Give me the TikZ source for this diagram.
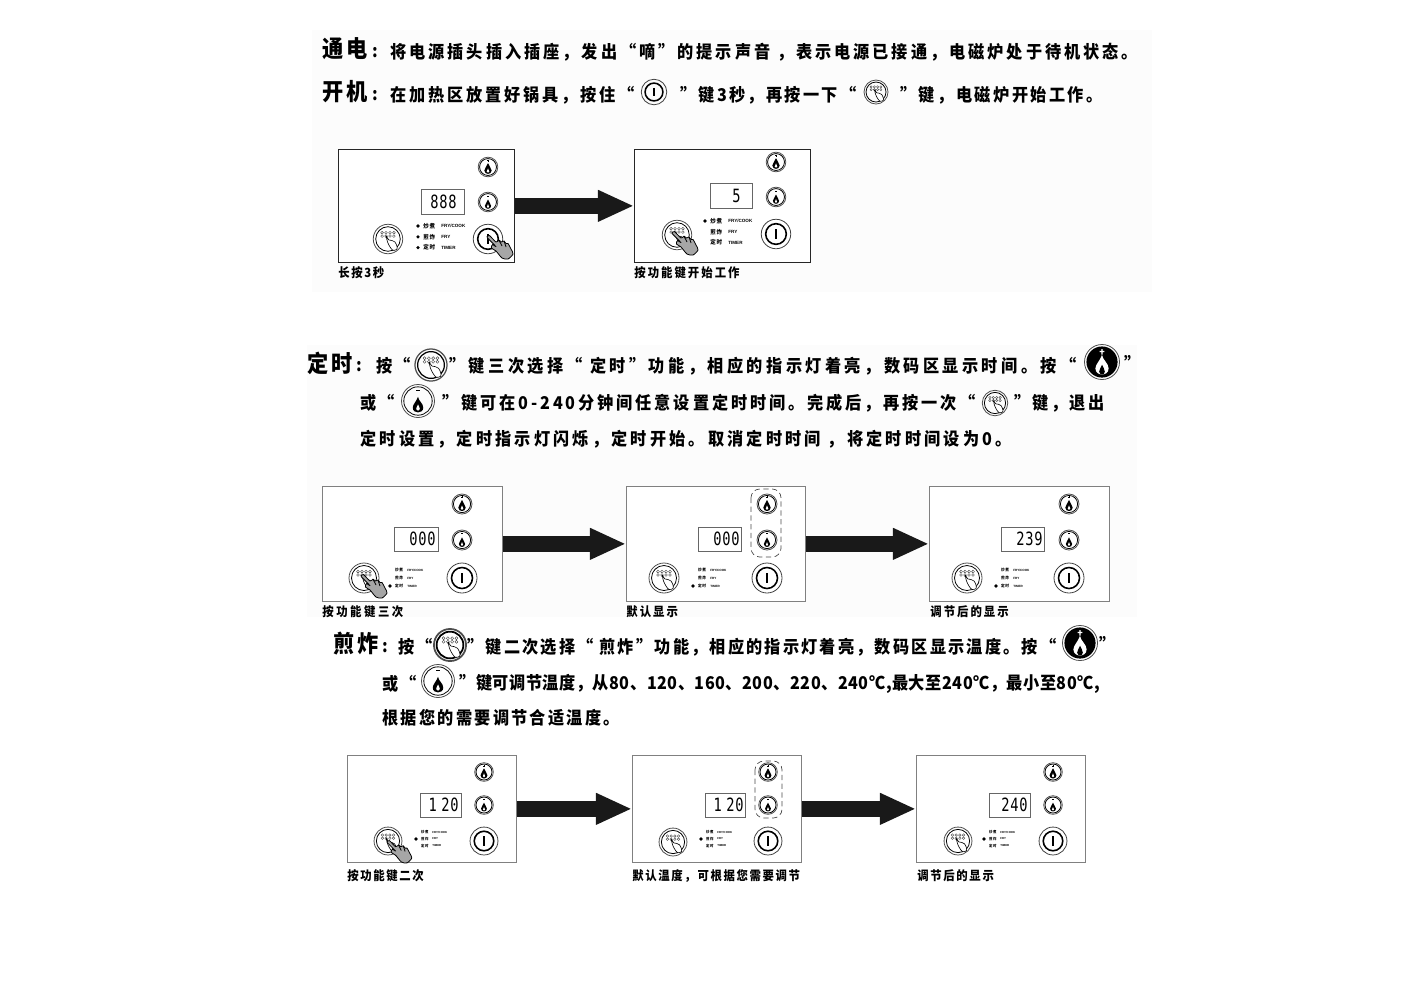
\documentclass[tikz,border=0pt]{standalone}
\usepackage{fontspec}
\newfontfamily\cjk[LetterSpace=13,FakeStretch=0.92]{Noto Sans CJK SC}
\newfontfamily\cjktitle[LetterSpace=13,FakeStretch=0.9]{Noto Sans CJK SC}
\newfontfamily\cjksmall[LetterSpace=16,FakeStretch=0.9]{Noto Sans CJK SC}
\newfontfamily\segfont[FakeStretch=0.75,LetterSpace=4]{DejaVu Sans Mono}
\setsansfont{Liberation Sans}
\usetikzlibrary{arrows.meta}
\definecolor{paper}{gray}{0.988}
\newcommand\spacing[1]{\addfontfeature{LetterSpace=#1}}
\newcommand\flamepath{(0,-4) .. controls (0.4,-1) and (3.7,0.6) .. (3.7,3.6)
    .. controls (3.7,6) and (1.7,7) .. (0,7)
    .. controls (-1.7,7) and (-3.7,6) .. (-3.7,3.6)
    .. controls (-3.7,1.4) and (-1.2,-0.6) .. cycle}
\newcommand\lickpath{(0,1.4) .. controls (0.4,2.6) and (1.3,3.4) .. (1.3,4.6)
    .. controls (1.3,5.4) and (0.6,5.8) .. (0,5.8)
    .. controls (-0.6,5.8) and (-1.3,5.4) .. (-1.3,4.6)
    .. controls (-1.3,3.6) and (-0.4,2.6) .. cycle}
\tikzset{%
    bodytext/.style={%
        anchor=west, inner sep=0pt, yshift=-0.57pt, font=\cjk\bfseries\fontsize{10}{12}\selectfont
    },
    titletext/.style={%
        anchor=west, inner sep=0pt, font=\cjktitle\bfseries\fontsize{13.4}{15}\selectfont
    },
    captext/.style={%
        anchor=west, inner sep=0pt, yshift=-0.57pt, font=\cjksmall\bfseries\fontsize{7.2}{9}\selectfont
    },
    paneltext/.style={%
        anchor=west, inner sep=0pt, font=\cjk\bfseries\fontsize{3.4}{4}\selectfont
    },
    ledtext/.style={%
        anchor=west, inner sep=0pt, font=\sffamily\bfseries\fontsize{2.6}{3}\selectfont
    },
    segtext/.style={%
        anchor=east, inner sep=0pt, font=\segfont\fontsize{10.4}{11}\selectfont
    },
    panelbox/.style={%
        draw, shape=rectangle, anchor=north west, fill=white, inner sep=0pt
    },
    dispbox/.style={%
        draw=black!60, line width=0.5pt
    },
    pickbox/.style={%
        draw=black!70, densely dashed, rounded corners=5pt, line width=0.4pt
    },
    fatarrow/.style={%
        line width=8.8pt, black!90, -{Triangle[length=20.5pt,width=16.6pt]}
    },
    ringline/.style={line width=0.45pt},
    pics/plusbtn/.style={code={
        \draw[ringline, black!70] (0,0) circle (10);
        \draw[ringline] (0,0) circle (8.6);
        \fill \flamepath;
        \fill[white] \lickpath;
        \draw[line width=0.35pt] (-1,-6.6) -- (1,-6.6) (0,-7.6) -- (0,-5.6);
    }},
    pics/minusbtn/.style={code={
        \draw[ringline, black!70] (0,0) circle (10);
        \draw[ringline] (0,0) circle (8.6);
        \fill[shift={(0,0.9)}, scale=0.86] \flamepath;
        \fill[white, shift={(0,0.9)}, scale=0.86] \lickpath;
        \draw[line width=0.4pt] (-1,-6.2) -- (1,-6.2);
    }},
    pics/plusdark/.style={code={
        \draw[ringline, black!70] (0,0) circle (10);
        \fill (0,0) circle (8.9);
        \fill[white] (-0.4,-7.4) rectangle (0.4,-4.2) (-1.4,-6.4) rectangle (1.4,-5.6);
        \fill[white, shift={(0,0)}, scale=1.02] \flamepath;
        \fill[shift={(0,-0.2)}, scale=1.25] \lickpath;
    }},
    pics/powerbtn/.style={code={
        \draw[ringline, black!75] (0,0) circle (15);
        \draw[line width=0.9pt] (0,0) circle (10.5);
        \draw[line width=1.3pt] (0,-5) -- (0,5);
    }},
    pics/funcbtn/.style={code={
        \draw[ringline, black!70] (0,0) circle (15);
        \draw[ringline] (0,0) circle (12.5);
        \foreach \cx in {-6,-2,2,6} {
            \foreach \cy in {-6.4,-3} {
                \draw[line width=0.22pt, black!75] (\cx,\cy) circle (1.4);
            }
        }
        \draw[line width=0.35pt, fill=white] plot[smooth cycle] coordinates {
            (-1.5,-2) (1,1) (4,1.5) (7,3) (9,7) (9,10.5) (5,11.5) (2,8) (-0.5,3)};
        \fill (-1.5,-2) circle (1.1);
    }},
    pics/hand/.style={code={
        \draw[line width=0.45pt, fill=black!35] plot[smooth cycle, tension=0.45] coordinates {
            (0,0) (1.6,-0.4) (8,6) (11,4.2) (13.5,6) (16,5) (18,7.5) (20,7.5)
            (23,13) (25,18) (20,23) (14,22) (8,15) (3.4,12) (4.5,8.6) (7.8,10.4) (-0.8,1.6)};
        \draw[line width=0.45pt] (11,4.2) -- (14,10) (16,5) -- (18,11);
    }}
}

\begin{document}
\begin{tikzpicture}[x=0.02cm, y=-0.02cm]
    \useasboundingbox (0,0) rectangle (1403,992);
    \fill[white] (0,0) rectangle (1403,992);
    \fill[paper] (312,30) rectangle (1152,292);
    \fill[paper] (307,345) rectangle (1137,617);

    % wording at the top
    \node[titletext] (powertitle) at (322,49) {通电};
    \node[bodytext] (powercolon) at (372,52) {:};
    \node[bodytext] (powerline) at (390,51) {\spacing{17}将电源插头插入插座，发出“嘀”的提示声音 ，表示电源已接通，电磁炉处于待机状态。};
    \node[titletext] (starttitle) at (322,92) {开机};
    \node[bodytext] (startcolon) at (372,95) {:};
    \node[bodytext] (startlinea) at (390,94) {\spacing{16}在加热区放置好锅具，按住“};
    \pic[scale=0.85] (starticona) at (654,92) {powerbtn};
    \node[bodytext] (startlineb) at (680,94) {”键3秒，再按一下“};
    \pic[scale=0.8] (starticonb) at (876,92) {funcbtn};
    \node[bodytext] (startlinec) at (900,94) {\spacing{14}”键，电磁炉开始工作。};

    % timer wording
    \node[titletext] (timertitle) at (307,363) {定时};
    \node[bodytext] (timercolon) at (356,366) {:};
    \node[bodytext] (timerlinea) at (376,365) {按“};
    \pic[scale=1.07, ringline/.style={line width=0.7pt}] (timericona) at (431,365) {funcbtn};
    \node[bodytext] (timerlineb) at (449,365) {\spacing{19.5}”键三次选择“ 定时”功能，相应的指示灯着亮，数码区显示时间。按“};
    \pic[scale=1.75] (timericonb) at (1102,362) {plusdark};
    \node[bodytext] (timerlinec) at (1124,362) {”};
    \node[bodytext] (timerlined) at (360,402) {或“};
    \pic[scale=1.65] (timericonc) at (418,401) {minusbtn};
    \node[bodytext] (timerlinee) at (442,402) {\spacing{16.5}”键可在0-240分钟间任意设置定时时间。完成后，再按一次“};
    \pic[scale=0.85] (timericond) at (995,403) {funcbtn};
    \node[bodytext] (timerlinef) at (1014,402) {”键，退出};
    \node[bodytext] (timerlineg) at (360,438) {\spacing{18}定时设置，定时指示灯闪烁，定时开始。取消定时时间 ，将定时时间设为0。};

    % fry wording
    \node[titletext] (frytitle) at (333,644) {煎炸};
    \node[bodytext] (frycolon) at (382,647) {:};
    \node[bodytext] (frylinea) at (398,646) {按“};
    \pic[scale=1.07, ringline/.style={line width=1pt}] (fryicona) at (450,645) {funcbtn};
    \node[bodytext] (frylineb) at (467,646) {\spacing{12.5}”键二次选择“ 煎炸”功能，相应的指示灯着亮，数码区显示温度。按“};
    \pic[scale=1.75] (fryiconb) at (1080,643) {plusdark};
    \node[bodytext] (frylinec) at (1099,643) {”};
    \node[bodytext] (frylined) at (382,683) {或“};
    \pic[scale=1.65] (fryiconc) at (438,681) {minusbtn};
    \node[bodytext] (frylinee) at (459,683) {\spacing{3}”键可调节温度，从80、120、160、200、220、240℃,最大至240℃，最小至80℃,};
    \node[bodytext] (frylinef) at (382,717) {根据您的需要调节合适温度。};

    % the eight control panels
    \foreach \pn/\px/\py/\pw/\ph/\pc/\bx/\by/\my/\wy/\fx/\fy/\dl/\dr/\dt/\db/\val/\vr/\lx/\ly/\lg/\ls/\led in {
        a1/338/149/176/113/black!85/488/167/202/239/388/239/421/464/189/214/888/457/418/226/10.8/1/3,
        a2/634/149/176/113/black!85/776/162/197/234/677/235/710/752/183/208/5/741/705/221/10.8/1/0,
        b1/322/486/180/115/black!50/462/504/540/578/364/578/394/438/527/551/000/436/390/570/8/0.67/2,
        b2/626/486/179/115/black!50/767/504/540/578/664/578/698/741/527/551/000/740/693/570/8/0.67/2,
        b3/929/486/180/115/black!50/1069/504/540/578/967/578/1001/1044/527/551/239/1043/996/570/8/0.67/2,
        c1/347/755/169/107/black!50/484/772/805/841/388/841/420/461/793/817/{1\kern-2.5pt\ 20}/459/416/832/7/0.62/1,
        c2/632/755/169/107/black!50/768/772/805/841/673/842/705/745/793/817/{1\kern-2.5pt\ 20}/744/701/832/7/0.62/1,
        c3/916/755/169/107/black!50/1053/772/805/841/958/841/989/1030/793/817/240/1028/984/832/7/0.62/1%
    } {
        \node[panelbox, draw=\pc, minimum width=\pw*0.02cm, minimum height=\ph*0.02cm] (\pn) at (\px,\py) {};
        \pic[scale=\ph/115] (\pn plus) at (\bx,\by) {plusbtn};
        \pic[scale=\ph/115] (\pn minus) at (\bx,\my) {minusbtn};
        \pic[scale=\ph/115] (\pn power) at (\bx,\wy) {powerbtn};
        \pic[scale=\ph/115] (\pn func) at (\fx,\fy) {funcbtn};
        \draw[dispbox] (\dl,\dt) rectangle (\dr,\db);
        \node[segtext] (\pn val) at (\vr,{(\dt+\db)/2}) {\val};
        \foreach \k/\zh/\en in {0/炒煮/{FRY/COOK},1/煎炸/FRY,2/定时/TIMER} {
            \ifnum\numexpr(\led-\k)*(\led-3)\relax=0
                \fill (\lx,\ly+\k*\lg) circle (1.8);
            \fi
            \node[paneltext, scale=\ls] (\pn zh\k) at (\lx+5,\ly+\k*\lg) {\zh};
            \node[ledtext, scale=\ls] (\pn en\k) at (\lx+5+18*\ls,\ly+\k*\lg) {\en};
        }
    }

    % the hands sit on top
    \pic (handa) at (488,236) {hand};
    \pic (handb) at (673,232) {hand};
    \pic (handc) at (362,575) {hand};
    \pic[scale=0.95] (handd) at (388,841) {hand};

    % which keys to change
    \draw[pickbox] (751,489) rectangle (781,557);
    \draw[pickbox] (755,761) rectangle (782,818);

    \draw[fatarrow] (a1) -- (a2);
    \draw[fatarrow] (b1) -- (b2);
    \draw[fatarrow] (b2) -- (b3);
    \draw[fatarrow] (c1) -- (c2);
    \draw[fatarrow] (c2) -- (c3);

    % captions
    \node[captext] (capa) at (338,272) {\spacing{13}长按3秒};
    \node[captext] (capb) at (634,272) {按功能键开始工作};
    \node[captext] (capc) at (322,611) {\spacing{20}按功能键三次};
    \node[captext] (capd) at (626,611) {默认显示};
    \node[captext] (cape) at (930,611) {调节后的显示};
    \node[captext] (capf) at (347,875) {\spacing{13}按功能键二次};
    \node[captext] (capg) at (632,875) {\spacing{13}默认温度，可根据您需要调节};
    \node[captext] (caph) at (917,875) {\spacing{13}调节后的显示};
\end{tikzpicture}
\end{document}
